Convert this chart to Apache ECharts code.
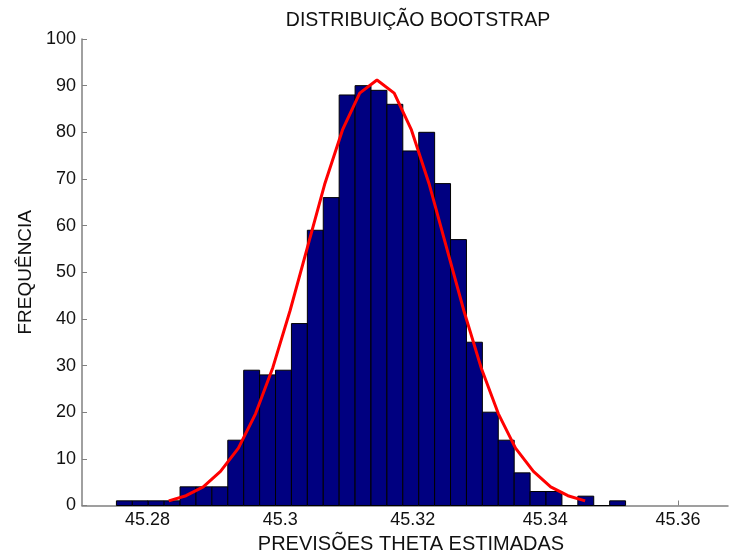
<!DOCTYPE html>
<html>
<head>
<meta charset="utf-8">
<script src="https://cdn.jsdelivr.net/npm/echarts@6/dist/echarts.min.js"></script>
<style>
  html, body { margin: 0; padding: 0; background: #fff; }
  #chart { width: 730px; height: 554px; }
</style>
</head>
<body>
<div id="chart"></div>
<script>
// histogram of the bootstrap estimates
const binStart = 45.2753;
const binWidth = 0.0024;
const counts = [1, 1, 1, 1, 4, 4, 4, 14, 29, 28, 29, 39, 59, 66, 88, 90,
                89, 86, 76, 80, 69, 57, 35, 20, 14, 7, 3, 3, 0, 2, 0, 1];

// fitted normal curve
const curveX = [45.2832, 45.2858, 45.2884, 45.2910, 45.2937, 45.2963, 45.2989,
                45.3015, 45.3041, 45.3067, 45.3094, 45.3120, 45.3146, 45.3172,
                45.3198, 45.3225, 45.3251, 45.3277, 45.3303, 45.3329, 45.3355,
                45.3382, 45.3408, 45.3434, 45.3460];
const curveY = [1.0, 2.1, 4.0, 7.3, 12.3, 19.7, 29.6, 41.8, 55.3, 68.8, 80.5, 88.4,
                91.2, 88.4, 80.5, 68.8, 55.3, 41.8, 29.6, 19.7, 12.3, 7.3, 4.0, 2.1, 1.0];

const xTicks = [45.28, 45.3, 45.32, 45.34, 45.36];

const chart = echarts.init(document.getElementById('chart'));

const bins = counts.map((c, i) => [binStart + i * binWidth, binStart + (i + 1) * binWidth, c]);

const axisGray = '#808080';
const font = 'Liberation Sans';
const labelFont = { color: '#111', fontSize: 18, fontFamily: font };

const option = {
  animation: false,
  title: {
    text: 'DISTRIBUIÇÃO BOOTSTRAP',
    left: 413,
    top: 6,
    textAlign: 'center',
    textStyle: { fontSize: 19.5, fontWeight: 'normal', color: '#111', fontFamily: font }
  },
  grid: { left: 82, right: 2, top: 39, bottom: 48.5, outerBoundsMode: 'none' },
  xAxis: {
    type: 'value',
    min: 45.27011,
    max: 45.36755,
    name: 'PREVISÕES THETA ESTIMADAS',
    nameLocation: 'middle',
    nameGap: 27,
    nameTextStyle: { fontSize: 20, color: '#111', fontFamily: font, padding: [0, 0, 0, 12] },
    splitLine: { show: false },
    axisLine: { onZero: false, lineStyle: { color: axisGray, width: 1.5 } },
    axisTick: { inside: true, length: 5, customValues: xTicks, lineStyle: { color: axisGray } },
    axisLabel: Object.assign({ customValues: xTicks, margin: 6 }, labelFont)
  },
  yAxis: {
    type: 'value',
    min: 0,
    max: 100,
    interval: 10,
    name: 'FREQUÊNCIA',
    nameLocation: 'middle',
    nameGap: 47,
    nameTextStyle: { fontSize: 19, color: '#111', fontFamily: font },
    splitLine: { show: false },
    axisLine: { show: true, lineStyle: { color: axisGray, width: 1.5 } },
    axisTick: { show: true, inside: true, length: 5, lineStyle: { color: axisGray } },
    axisLabel: Object.assign({ margin: 6 }, labelFont)
  },
  series: [
    {
      type: 'custom',
      data: bins,
      renderItem: function (params, api) {
        const p0 = api.coord([api.value(0), api.value(2)]);
        const p1 = api.coord([api.value(1), 0]);
        return {
          type: 'rect',
          shape: { x: p0[0], y: p0[1], width: p1[0] - p0[0], height: p1[1] - p0[1] },
          style: { fill: '#000080', stroke: '#000', lineWidth: 1 }
        };
      },
      encode: { x: [0, 1], y: 2 },
      z: 2
    },
    {
      type: 'line',
      data: curveX.map((x, i) => [x, curveY[i]]),
      showSymbol: false,
      symbol: 'none',
      lineStyle: { color: '#ff0000', width: 3 },
      z: 3
    }
  ]
};

chart.setOption(option);

window.addEventListener('resize', () => {
  chart.resize();
});
</script>
</body>
</html>
